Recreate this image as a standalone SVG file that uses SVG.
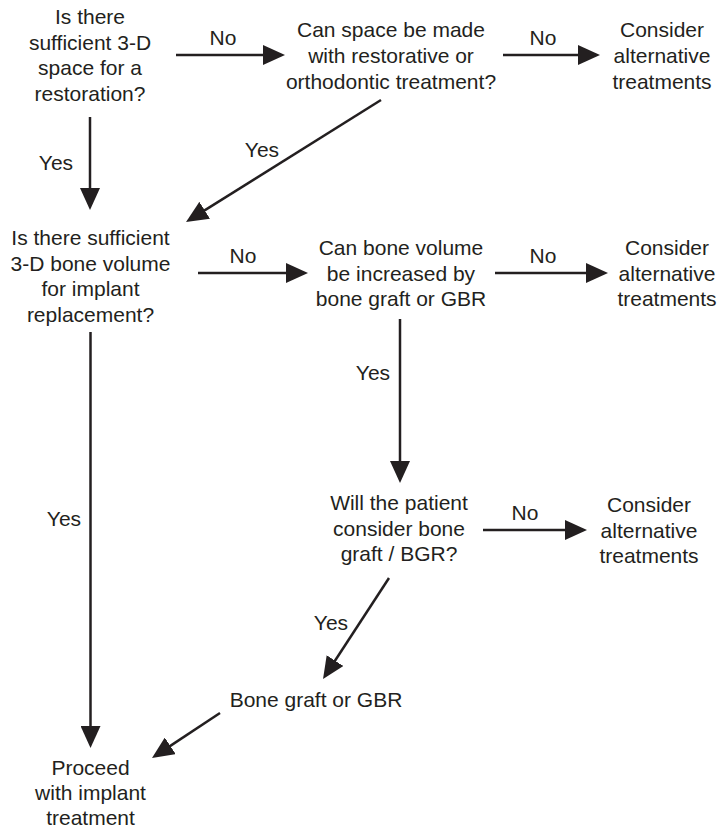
<svg xmlns="http://www.w3.org/2000/svg" width="718" height="829" viewBox="0 0 718 829">
<style>
text{font-family:"Liberation Sans",Arial,Helvetica,sans-serif;font-size:21px;fill:#231f20;text-anchor:middle}
.c{stroke:#231f20;stroke-width:2.5;fill:none;marker-end:url(#ah)}
</style>
<defs>
<marker id="ah" markerUnits="userSpaceOnUse" markerWidth="22" markerHeight="20" refX="10" refY="10" orient="auto" viewBox="0 0 22 20">
<path d="M0,0 L22,10 L0,20 z" fill="#231f20"/>
</marker>
</defs>
<rect width="718" height="829" fill="#fff"/>
<g id="connectors">
<line class="c" x1="176" y1="55" x2="273" y2="55"/>
<line class="c" x1="503" y1="55" x2="588" y2="55"/>
<line class="c" x1="90" y1="117" x2="90" y2="198"/>
<line class="c" x1="381" y1="100" x2="196.2" y2="215.6"/>
<line class="c" x1="198" y1="273" x2="296" y2="273"/>
<line class="c" x1="495" y1="273" x2="596" y2="273"/>
<line class="c" x1="400" y1="319" x2="400" y2="471"/>
<line class="c" x1="90.5" y1="332" x2="90.5" y2="736"/>
<line class="c" x1="483" y1="530" x2="575" y2="530"/>
<line class="c" x1="389" y1="578" x2="329.6" y2="669"/>
<line class="c" x1="220" y1="713" x2="162" y2="751.4"/>
<text x="223" y="45">No</text>
<text x="543" y="45">No</text>
<text x="56" y="170">Yes</text>
<text x="262" y="157">Yes</text>
<text x="243" y="263">No</text>
<text x="543" y="263">No</text>
<text x="373" y="380">Yes</text>
<text x="64" y="526">Yes</text>
<text x="525" y="520">No</text>
<text x="331" y="630">Yes</text>
</g>
<g id="n1"><text x="90" y="24">Is there</text><text x="90" y="49.5">sufficient 3-D</text><text x="90" y="75">space for a</text><text x="90" y="100.5">restoration?</text></g>
<g id="n2"><text x="391" y="37">Can space be made</text><text x="391" y="63">with restorative or</text><text x="391" y="88.5">orthodontic treatment?</text></g>
<g id="n3"><text x="662" y="37">Consider</text><text x="662" y="63">alternative</text><text x="662" y="88.5">treatments</text></g>
<g id="n4"><text x="90.5" y="245">Is there sufficient</text><text x="90.5" y="270.5">3-D bone volume</text><text x="90.5" y="296">for implant</text><text x="90.5" y="321.5">replacement?</text></g>
<g id="n5"><text x="401" y="255">Can bone volume</text><text x="401" y="280.5">be increased by</text><text x="401" y="306">bone graft or GBR</text></g>
<g id="n6"><text x="667" y="255">Consider</text><text x="667" y="280.5">alternative</text><text x="667" y="306">treatments</text></g>
<g id="n7"><text x="399" y="510">Will the patient</text><text x="399" y="535.5">consider bone</text><text x="399" y="561">graft / BGR?</text></g>
<g id="n8"><text x="649" y="512">Consider</text><text x="649" y="537.5">alternative</text><text x="649" y="563">treatments</text></g>
<g id="n9"><text x="316" y="707">Bone graft or GBR</text></g>
<g id="n10"><text x="90.5" y="775">Proceed</text><text x="90.5" y="800">with implant</text><text x="90.5" y="825">treatment</text></g>
</svg>
